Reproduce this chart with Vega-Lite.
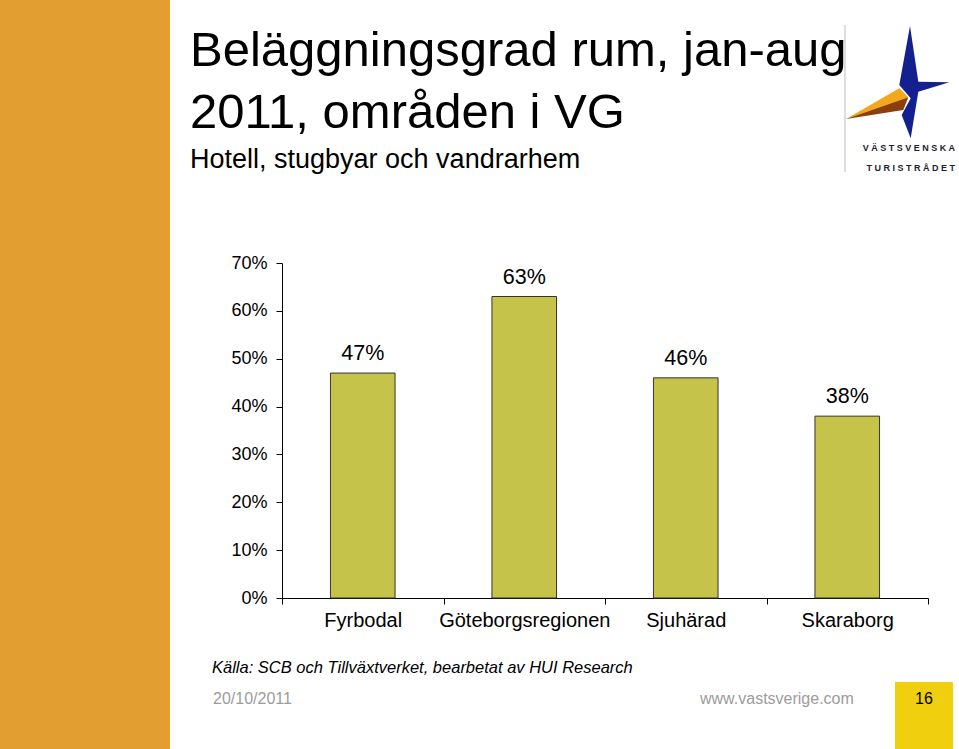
{
  "$schema": "https://vega.github.io/schema/vega-lite/v6.json",
  "padding": 0,
  "background": "white",
  "bounds": "flush",
  "spacing": 0,
  "config": {
    "font": "Liberation Sans",
    "view": {"stroke": null},
    "concat": {"spacing": 0}
  },
  "datasets": {
    "bars": [
      {"region": "Fyrbodal", "value": 0.47},
      {"region": "Göteborgsregionen", "value": 0.63},
      {"region": "Sjuhärad", "value": 0.46},
      {"region": "Skaraborg", "value": 0.38}
    ],
    "blank": [{}],
    "none": []
  },
  "hconcat": [
    {"width": 170, "height": 749, "view": {"fill": "#E29E30", "stroke": null}, "data": {"name": "none"}, "mark": "text"},
    {"width": 112, "height": 749, "data": {"name": "none"}, "mark": "text"},
    {
      "bounds": "flush",
      "spacing": 0,
      "vconcat": [
        {
          "width": 677, "height": 175,
          "data": {"name": "blank"},
          "layer": [
            {"mark": {"type": "point", "shape": "M7.483,-2.083L7.483,2.817", "size": 3600, "filled": false, "stroke": "#BDBDBD", "strokeWidth": 1, "opacity": 1}, "encoding": {}},
            {"mark": {"type": "point", "shape": "M9.65,-2.05L9.927,-0.193L10.96,-0.173L9.927,0.14L9.673,1.693L9.373,0.917L9.673,0.36L9.293,-0.083Z", "size": 3600, "filled": true, "color": "#14208F", "opacity": 1, "strokeWidth": 0}, "encoding": {}},
            {"mark": {"type": "point", "shape": "M7.517,1.05L9.293,0.027L9.593,0.327Z", "size": 3600, "filled": true, "color": "#F3A81C", "opacity": 1, "strokeWidth": 0}, "encoding": {}},
            {"mark": {"type": "point", "shape": "M7.517,1.05L9.593,0.327L9.427,0.75Z", "size": 3600, "filled": true, "color": "#8B3F0A", "opacity": 1, "strokeWidth": 0}, "encoding": {}}
          ]
        },
        {
          "width": 677, "height": 88,
          "data": {"name": "none"},
          "mark": "text",
          "title": {"text": ["V Ä S T S V E N S K A", "T U R I S T R Å D E T"], "orient": "top", "anchor": "end", "frame": "group", "dx": -4, "offset": -5, "baseline": "alphabetic", "fontSize": 9, "fontWeight": "bold", "lineHeight": 20, "color": "#1E1E2E", "font": "Liberation Sans"}
        },
        {
          "width": 646, "height": 335,
          "data": {"name": "bars"},
          "title": {
            "text": ["Beläggningsgrad rum, jan-aug", "2011, områden i VG"],
            "subtitle": "Hotell, stugbyar och vandrarhem",
            "anchor": "start", "frame": "group", "dx": -92, "offset": 42, "baseline": "alphabetic",
            "font": "Liberation Sans", "fontSize": 49, "fontWeight": "normal", "lineHeight": 62, "color": "#000000",
            "subtitleFont": "Liberation Sans", "subtitleFontSize": 27, "subtitleColor": "#000000", "subtitlePadding": -9
          },
          "encoding": {
            "x": {
              "field": "region", "type": "nominal", "sort": null,
              "scale": {"paddingInner": 0, "paddingOuter": 0},
              "axis": {"title": null, "labelAngle": 0, "labelFontSize": 20, "labelPadding": 6, "tickSize": 6, "tickBand": "extent", "domainColor": "#000000", "tickColor": "#000000", "labelColor": "#000000", "labelFont": "Liberation Sans"}
            },
            "y": {
              "field": "value", "type": "quantitative",
              "scale": {"domain": [0, 0.7], "nice": false, "zero": true},
              "axis": {"title": null, "values": [0, 0.1, 0.2, 0.3, 0.4, 0.5, 0.6, 0.7], "format": ".0%", "grid": false, "tickSize": 6, "labelPadding": 9, "labelFontSize": 18, "domainColor": "#000000", "tickColor": "#000000", "labelColor": "#000000", "labelFont": "Liberation Sans"}
            }
          },
          "layer": [
            {"mark": {"type": "bar", "width": {"band": 0.4}, "fill": "#C6C34A", "stroke": "#333333", "strokeWidth": 1}},
            {"mark": {"type": "text", "baseline": "alphabetic", "dy": -13, "fontSize": 21.5, "color": "#000000"}, "encoding": {"text": {"field": "value", "type": "quantitative", "format": ".0%"}}}
          ]
        },
        {
          "width": 677, "height": 147,
          "data": {"name": "blank"},
          "mark": {"type": "point", "shape": "M9.15,0.35L11.083,0.35L11.083,2.583L9.15,2.583Z", "size": 3600, "filled": true, "color": "#F0D00E", "opacity": 1, "strokeWidth": 0},
          "encoding": {}
        },
        {
          "width": 677, "height": 1, "data": {"name": "none"}, "mark": "text",
          "title": {"text": "Källa: SCB och Tillväxtverket, bearbetat av HUI Research", "orient": "top", "anchor": "start", "frame": "group", "dx": -70, "offset": 56, "baseline": "alphabetic", "fontSize": 16.5, "fontStyle": "italic", "fontWeight": "normal", "color": "#000000", "font": "Liberation Sans"}
        },
        {
          "width": 677, "height": 1, "data": {"name": "none"}, "mark": "text",
          "title": {"text": "20/10/2011", "orient": "top", "anchor": "start", "frame": "group", "dx": -69, "offset": 26, "baseline": "alphabetic", "fontSize": 16, "fontWeight": "normal", "color": "#9C9C9C", "font": "Liberation Sans"}
        },
        {
          "width": 677, "height": 1, "data": {"name": "none"}, "mark": "text",
          "title": {"text": "www.vastsverige.com", "orient": "top", "anchor": "start", "frame": "group", "dx": 418, "offset": 27, "baseline": "alphabetic", "fontSize": 16, "fontWeight": "normal", "color": "#9C9C9C", "font": "Liberation Sans"}
        },
        {
          "width": 677, "height": 1, "data": {"name": "none"}, "mark": "text",
          "title": {"text": "16", "orient": "top", "anchor": "middle", "frame": "group", "dx": 303.5, "offset": 28, "baseline": "alphabetic", "fontSize": 16, "fontWeight": "normal", "color": "#000000", "font": "Liberation Sans"}
        }
      ]
    }
  ]
}
